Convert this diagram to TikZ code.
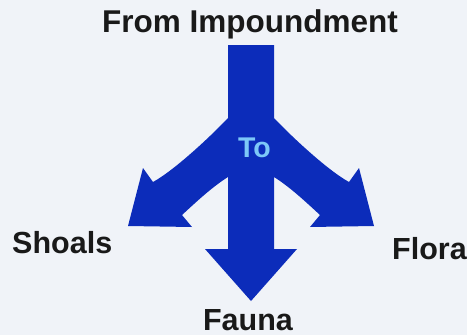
\documentclass[tikz,border=0pt]{standalone}
\usepackage{fontspec}
\setmainfont{Liberation Sans}
\definecolor{bg}{RGB}{240,243,248}
\definecolor{arrowblue}{RGB}{12,44,186}
\definecolor{tolabel}{RGB}{125,200,248}
\tikzset{
  lbl/.style={inner sep=0pt, font=\fontsize{30.5}{31}\selectfont\bfseries, text=black!90},
  tolbl/.style={inner sep=0pt, font=\fontsize{28.5}{29}\selectfont\bfseries, text=tolabel},
  bigarrow/.style={fill=arrowblue, draw=none}
}
\begin{document}
\begin{tikzpicture}[x=1pt,y=-1pt]
\fill[bg] (0,0) rectangle (467,335);
\useasboundingbox (0,0) rectangle (467,335);
% three-way arrow
\path[bigarrow]
  (228,45) -- (274,45) -- (274,118)
  .. controls (289,134) and (327,170) .. (349,182)
  -- (359,168) -- (374,226) -- (310,227) -- (320,215)
  .. controls (307,203) and (290,187) .. (274,177)
  -- (274,249) -- (297,249) -- (251,301) -- (205,249) -- (228,249)
  -- (228,177)
  .. controls (212,187) and (195,203) .. (182,215)
  -- (192,227) -- (128,226) -- (143,168) -- (153,182)
  .. controls (175,170) and (213,134) .. (228,118)
  -- cycle;
\node[lbl, anchor=base, font=\fontsize{31.5}{32}\selectfont\bfseries] (from) at (250,32) {From Impoundment};
\node[tolbl, anchor=base] (to) at (254.5,157) {To};
\node[lbl, anchor=base west] (shoals) at (12,253) {Shoals};
\node[lbl, anchor=base west] (flora) at (392,259) {Flora};
\node[lbl, anchor=base] (fauna) at (248,330) {Fauna};
\end{tikzpicture}
\end{document}
